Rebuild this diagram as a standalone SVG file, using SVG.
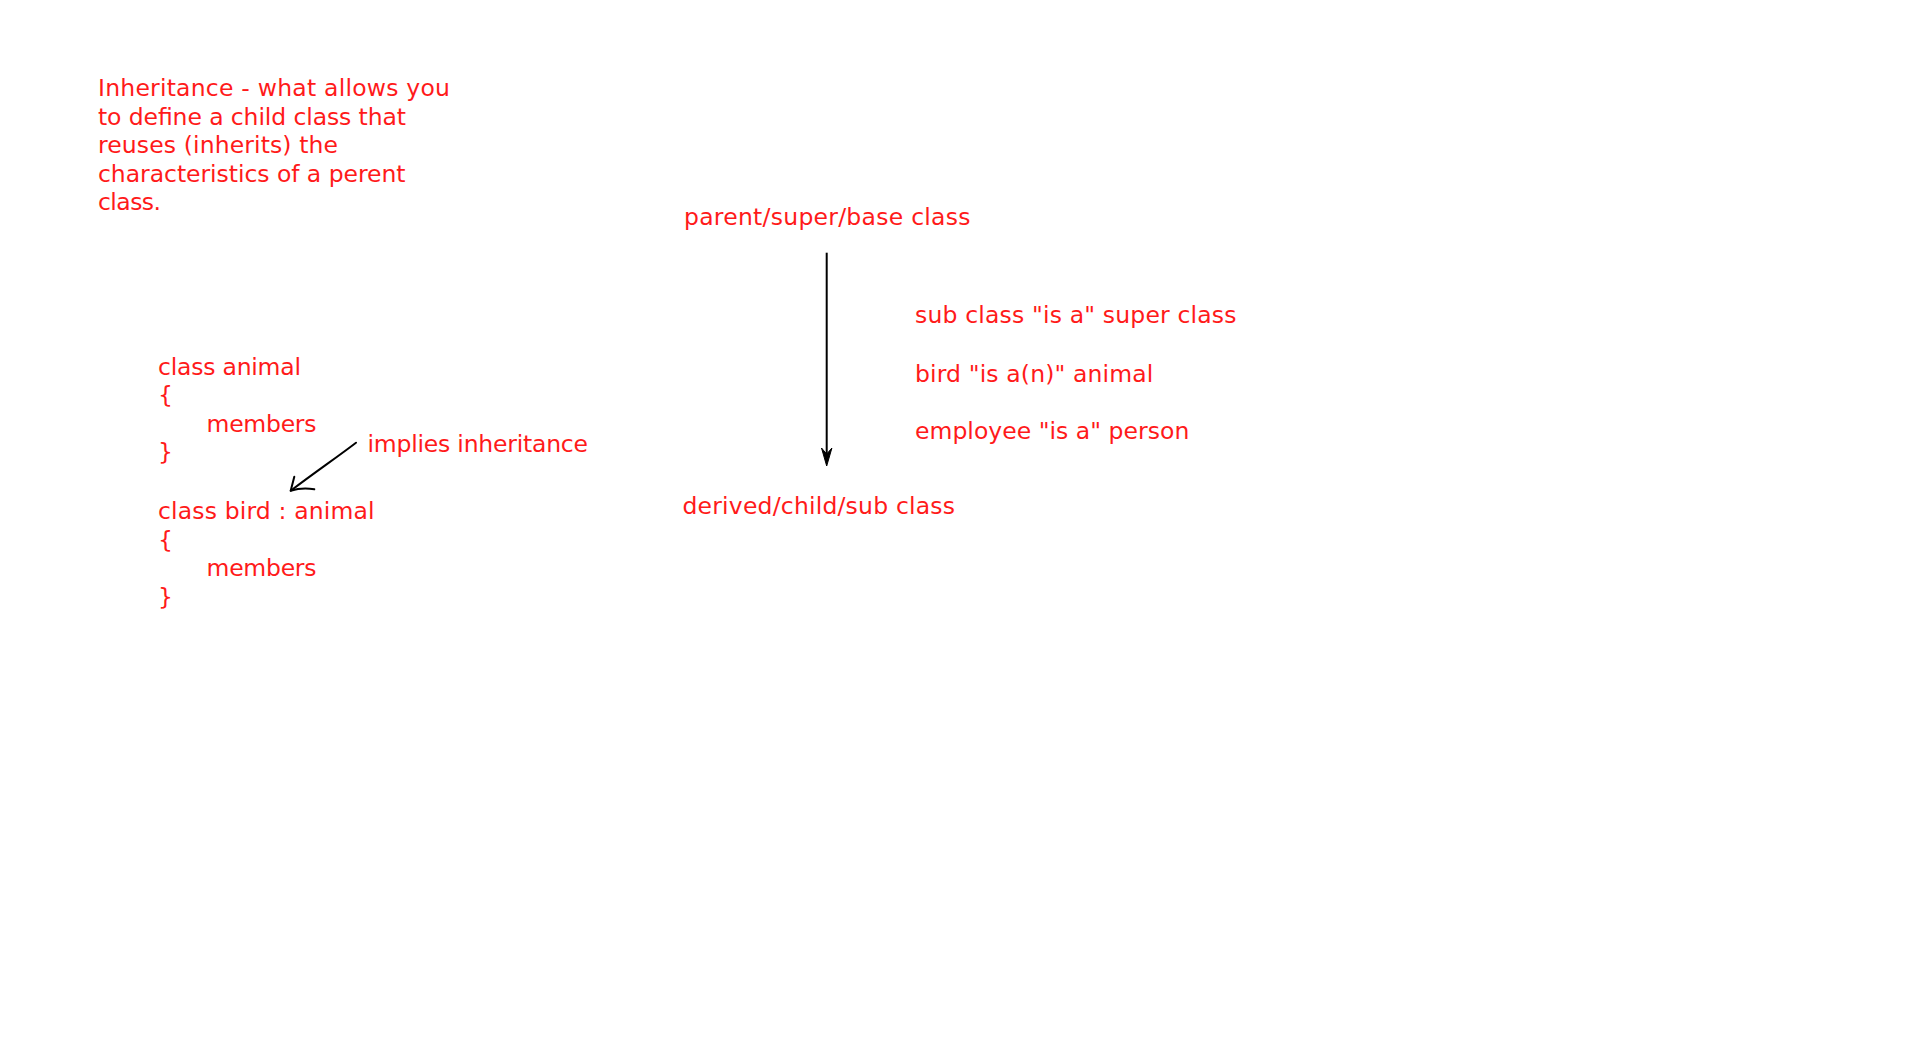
<svg xmlns="http://www.w3.org/2000/svg" width="1920" height="1057" viewBox="0 0 1920 1057">
<style>
.t{font-family:"DejaVu Sans",Verdana,sans-serif;font-size:23.5px;fill:#ff1a1a}
.ln{fill:none;stroke:#000;stroke-width:2;stroke-linecap:round;stroke-linejoin:round}
</style>
<rect width="1920" height="1057" fill="#fff"/>
<g id="definition">
<text class="t" x="98" y="96" textLength="352">Inheritance - what allows you</text>
<text class="t" x="98" y="124.5" textLength="308">to define a child class that</text>
<text class="t" x="98" y="153" textLength="240">reuses (inherits) the</text>
<text class="t" x="98" y="181.5" textLength="307.5">characteristics of a perent</text>
<text class="t" x="98" y="210" textLength="63">class.</text>
</g>
<g id="code">
<text class="t" x="158" y="374.5" textLength="143">class animal</text>
<text class="t" x="158" y="403">{</text>
<text class="t" x="206.5" y="431.7" textLength="110">members</text>
<text class="t" x="158" y="460.3">}</text>
<text class="t" x="158" y="519" textLength="216.5">class bird : animal</text>
<text class="t" x="158" y="547.7">{</text>
<text class="t" x="206.5" y="576.3" textLength="110">members</text>
<text class="t" x="158" y="605">}</text>
</g>
<g id="implies">
<text class="t" x="367.5" y="451.7" textLength="220.5">implies inheritance</text>
</g>
<g id="parent">
<text class="t" x="684" y="225" textLength="286.5">parent/super/base class</text>
</g>
<g id="derived">
<text class="t" x="682.5" y="514" textLength="272.5">derived/child/sub class</text>
</g>
<g id="isa">
<text class="t" x="915" y="323.3" textLength="321.5">sub class "is a" super class</text>
<text class="t" x="915" y="381.7" textLength="238.3">bird "is a(n)" animal</text>
<text class="t" x="915" y="439" textLength="274.3">employee "is a" person</text>
</g>
<g id="connectors">
<path class="ln" d="M356,442.7 C336,458 318,470 290.7,490.7"/>
<path class="ln" d="M294.3,476.7 L290.7,490.7 C298,488.5 306,488 314.3,489.3"/>
<line x1="826.7" y1="252.7" x2="826.7" y2="459" stroke="#000" stroke-width="2"/>
<path d="M826.7,466 L821.5,448 L826.7,454 L831.9,448 Z" fill="#000" stroke="#000" stroke-width="1" stroke-linejoin="round"/>
</g>
</svg>
